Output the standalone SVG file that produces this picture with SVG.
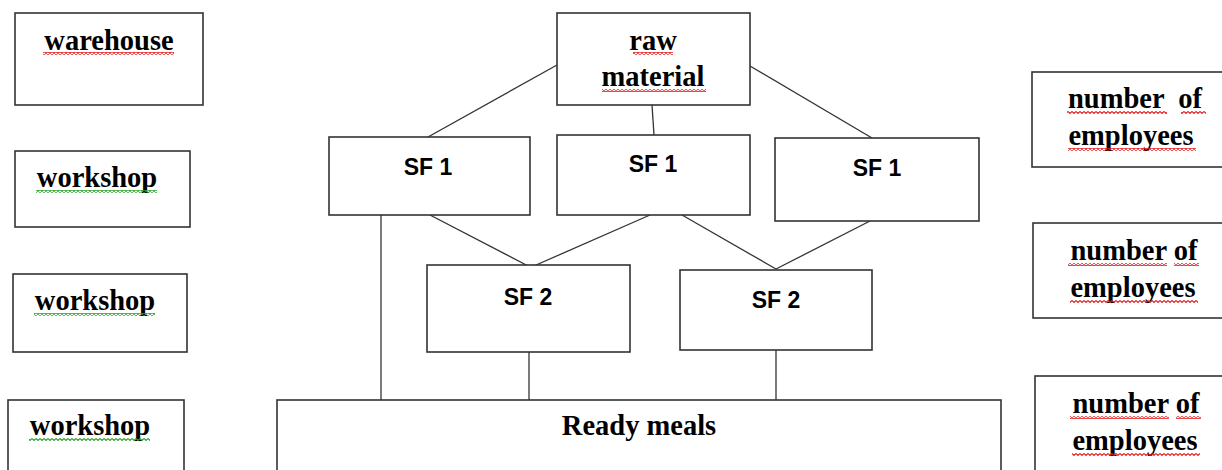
<svg xmlns="http://www.w3.org/2000/svg" width="1222" height="470" viewBox="0 0 1222 470">
<style>
.box{fill:#fff;stroke:#333;stroke-width:1.6}
.conn line{stroke:#333;stroke-width:1.3}
.ts{font-family:"Liberation Serif","Times New Roman",serif;font-weight:bold;font-size:28.5px;fill:#000}
.sf{font-family:"Liberation Sans",Arial,sans-serif;font-weight:bold;font-size:23px;fill:#000}
</style>
<defs>
<pattern id="sqr" width="4" height="3" patternUnits="userSpaceOnUse"><polyline points="0,0.5 2,2.5 4,0.5" fill="none" stroke="#e02020" stroke-width="1.1"/></pattern>
<pattern id="sqg" width="4" height="3" patternUnits="userSpaceOnUse"><polyline points="0,0.5 2,2.5 4,0.5" fill="none" stroke="#2ea02e" stroke-width="1.1"/></pattern>
</defs>
<rect width="1222" height="470" fill="#fff"/>
<g id="connectors" class="conn">
<line x1="557" y1="65" x2="428" y2="137"/>
<line x1="652" y1="105" x2="654" y2="135"/>
<line x1="750" y1="66" x2="872" y2="138"/>
<line x1="381" y1="215" x2="381" y2="400"/>
<line x1="430" y1="215" x2="532" y2="268"/>
<line x1="650" y1="215" x2="527" y2="269"/>
<line x1="682" y1="215" x2="776" y2="269"/>
<line x1="870" y1="221" x2="776" y2="269"/>
<line x1="529" y1="352" x2="529" y2="400"/>
<line x1="776" y1="350" x2="776" y2="400"/>
</g>
<g id="warehouse"><rect class="box" x="15" y="13" width="188" height="92"/><text class="ts" x="109" y="50" text-anchor="middle">warehouse</text><rect x="43" y="52" width="131" height="3" fill="url(#sqr)"/></g>
<g id="workshop1"><rect class="box" x="15" y="151" width="175" height="76"/><text class="ts" x="97" y="187" text-anchor="middle">workshop</text><rect x="36" y="190" width="121" height="3" fill="url(#sqg)"/></g>
<g id="workshop2"><rect class="box" x="13" y="274" width="174" height="78"/><text class="ts" x="95" y="310" text-anchor="middle">workshop</text><rect x="34" y="313" width="121" height="3" fill="url(#sqg)"/></g>
<g id="workshop3"><rect class="box" x="8" y="400" width="176" height="80"/><text class="ts" x="90" y="435" text-anchor="middle">workshop</text><rect x="29" y="438" width="121" height="3" fill="url(#sqg)"/></g>
<g id="raw-material"><rect class="box" x="557" y="13" width="193" height="92"/><text class="ts" x="653" y="50" text-anchor="middle">raw</text><rect x="633" y="52" width="40" height="3" fill="url(#sqr)"/><text class="ts" x="653" y="86" text-anchor="middle">material</text><rect x="602" y="89" width="104" height="3" fill="url(#sqr)"/></g>
<g id="sf1-left"><rect class="box" x="329" y="137" width="201" height="78"/><text class="sf" x="428" y="175" text-anchor="middle">SF 1</text></g>
<g id="sf1-mid"><rect class="box" x="557" y="135" width="193" height="80"/><text class="sf" x="653" y="172" text-anchor="middle">SF 1</text></g>
<g id="sf1-right"><rect class="box" x="775" y="138" width="204" height="83"/><text class="sf" x="877" y="176" text-anchor="middle">SF 1</text></g>
<g id="sf2-left"><rect class="box" x="427" y="265" width="203" height="87"/><text class="sf" x="528" y="305" text-anchor="middle">SF 2</text></g>
<g id="sf2-right"><rect class="box" x="680" y="270" width="192" height="80"/><text class="sf" x="776" y="308" text-anchor="middle">SF 2</text></g>
<g id="ready-meals"><rect class="box" x="277" y="400" width="724" height="80"/><text class="ts" x="639" y="435" text-anchor="middle">Ready meals</text></g>
<g id="employees1"><rect class="box" x="1032" y="72" width="200" height="95"/><text class="ts" x="1135" y="108" text-anchor="middle" xml:space="preserve">number  of</text><rect x="1067" y="111" width="100" height="3" fill="url(#sqr)"/><rect x="1181" y="111" width="25" height="3" fill="url(#sqr)"/><text class="ts" x="1131" y="145" text-anchor="middle">employees</text><rect x="1068" y="148" width="128" height="3" fill="url(#sqr)"/></g>
<g id="employees2"><rect class="box" x="1033" y="223" width="199" height="95"/><text class="ts" x="1134" y="260" text-anchor="middle">number of</text><rect x="1068" y="263" width="99" height="3" fill="url(#sqr)"/><rect x="1174" y="263" width="25" height="3" fill="url(#sqr)"/><text class="ts" x="1133" y="297" text-anchor="middle">employees</text><rect x="1070" y="300" width="128" height="3" fill="url(#sqr)"/></g>
<g id="employees3"><rect class="box" x="1035" y="376" width="197" height="104"/><text class="ts" x="1136" y="413" text-anchor="middle">number of</text><rect x="1070" y="416" width="99" height="3" fill="url(#sqr)"/><rect x="1176" y="416" width="25" height="3" fill="url(#sqr)"/><text class="ts" x="1135" y="450" text-anchor="middle">employees</text><rect x="1072" y="453" width="128" height="3" fill="url(#sqr)"/></g>
</svg>
